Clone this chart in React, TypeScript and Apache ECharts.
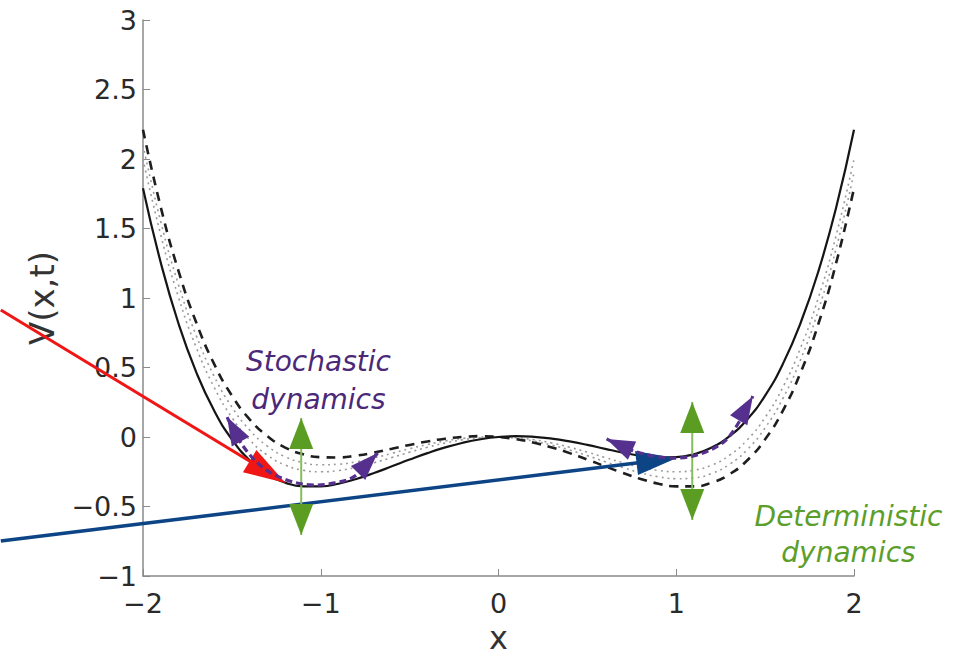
import React, { useEffect, useRef } from "react";
import * as echarts from "echarts";

// ---------- data ----------
const xValues = [
  -2, -1.9, -1.8, -1.7, -1.6, -1.5, -1.4, -1.3, -1.2, -1.1, -1, -0.9, -0.8, -0.7, -0.6, -0.5, -0.4, -0.3, -0.2, -0.1,
  0, 0.1, 0.2, 0.3, 0.4, 0.5, 0.6, 0.7, 0.8, 0.9, 1, 1.1, 1.2, 1.3, 1.4, 1.5, 1.6, 1.7, 1.8, 1.9, 2,
];
const solidV = [
  1.79, 1.254, 0.815, 0.465, 0.19, -0.017, -0.167, -0.268, -0.328, -0.355, -0.355, -0.336, -0.302, -0.259, -0.211, -0.162, -0.116, -0.075, -0.041, -0.016,
  0, 0.006, 0.001, -0.012, -0.032, -0.057, -0.085, -0.112, -0.134, -0.147, -0.145, -0.124, -0.076, 0.006, 0.127, 0.298, 0.526, 0.822, 1.193, 1.653, 2.21,
];
const dottedAV = [
  2, 1.453, 1.004, 0.643, 0.358, 0.141, -0.02, -0.131, -0.202, -0.239, -0.25, -0.241, -0.218, -0.185, -0.148, -0.109, -0.074, -0.043, -0.02, -0.005,
  0, -0.005, -0.02, -0.043, -0.074, -0.109, -0.148, -0.185, -0.218, -0.241, -0.25, -0.239, -0.202, -0.131, -0.02, 0.141, 0.358, 0.643, 1.004, 1.453, 2,
];
const dottedBV = [
  2.1, 1.548, 1.094, 0.728, 0.438, 0.216, 0.05, -0.066, -0.142, -0.184, -0.2, -0.196, -0.178, -0.15, -0.118, -0.084, -0.054, -0.028, -0.01, 0,
  0, -0.01, -0.03, -0.058, -0.094, -0.134, -0.178, -0.22, -0.258, -0.286, -0.3, -0.294, -0.262, -0.196, -0.09, 0.066, 0.278, 0.558, 0.914, 1.358, 1.9,
];
const dashedV = [
  2.21, 1.653, 1.193, 0.822, 0.526, 0.298, 0.127, 0.006, -0.076, -0.124, -0.145, -0.147, -0.134, -0.112, -0.085, -0.057, -0.032, -0.012, 0.001, 0.006,
  0, -0.016, -0.041, -0.075, -0.116, -0.162, -0.211, -0.259, -0.302, -0.336, -0.355, -0.355, -0.328, -0.268, -0.167, -0.017, 0.19, 0.465, 0.815, 1.254, 1.79,
];

// annotation anchors (data coordinates)
const redArrow = [[-2.8, 0.914], [-1.198, -0.331]];
const blueArrow = [[-2.8, -0.748], [1.0, -0.152]];
const greenArrowLeft = [[-1.11, 0.137], [-1.11, -0.705]];
const greenArrowRight = [[1.09, 0.252], [1.09, -0.597]];
const purplePathLeft = [
  [-1.527, 0.143], [-1.44, -0.06], [-1.33, -0.215], [-1.2, -0.305], [-1.06, -0.345], [-0.92, -0.33], [-0.806, -0.28], [-0.68, -0.115],
];
const purplePathRight = [
  [0.608, -0.014], [0.744, -0.093], [0.885, -0.14], [1.025, -0.15], [1.166, -0.108], [1.296, 0.0], [1.431, 0.294],
];
const stochasticLabel = ["Stochastic", "dynamics"];
const deterministicLabel = ["Deterministic", "dynamics"];
const stochasticAnchor = [-1.013, 0.403];
const deterministicAnchor = [1.969, -0.705];

const pair = (ys: number[]) => xValues.map((x, i) => [x, ys[i]]);
const fmt = (v: number) => String(v).replace("-", "\u2212");

export default function App() {
  const ref = useRef<HTMLDivElement>(null);
  useEffect(() => {
    if (!ref.current) return;
    const chart = echarts.init(ref.current, null, { renderer: "svg" });
    const font = "'DejaVu Sans', sans-serif";
    chart.setOption({
      animation: false,
      backgroundColor: "#ffffff",
      grid: { left: 143, right: 120, top: 20, bottom: 83, containLabel: false, outerBoundsMode: "none" },
      xAxis: {
        type: "value",
        min: -2,
        max: 2,
        interval: 1,
        name: "x",
        nameLocation: "middle",
        nameGap: 47,
        nameTextStyle: { fontFamily: font, fontSize: 32, lineHeight: 30, color: "#333" },
        axisLine: { onZero: false, lineStyle: { color: "#8a8a8a", width: 1.5 } },
        axisTick: { inside: true, length: 7, lineStyle: { color: "#8a8a8a" } },
        axisLabel: { formatter: fmt, fontFamily: font, fontSize: 27, lineHeight: 27, color: "#2a2a2a", margin: 14 },
        splitLine: { show: false },
      },
      yAxis: {
        type: "value",
        min: -1,
        max: 3,
        interval: 0.5,
        name: "V(x,t)",
        nameLocation: "middle",
        nameGap: 84,
        nameTextStyle: { fontFamily: font, fontSize: 34, color: "#333" },
        axisLine: { onZero: false, lineStyle: { color: "#8a8a8a", width: 1.5 } },
        axisTick: { inside: true, length: 7, lineStyle: { color: "#8a8a8a" } },
        axisLabel: { formatter: fmt, fontFamily: font, fontSize: 27, lineHeight: 25, color: "#2a2a2a", margin: 6 },
        splitLine: { show: false },
      },
      series: [
        {
          type: "line", data: pair(dottedAV), smooth: true, showSymbol: false,
          lineStyle: { color: "#9a9a9a", width: 1.6, type: [2, 4] }, z: 2,
        },
        {
          type: "line", data: pair(dottedBV), smooth: true, showSymbol: false,
          lineStyle: { color: "#9a9a9a", width: 1.6, type: [2, 4] }, z: 2,
        },
        {
          type: "line", data: pair(dashedV), smooth: true, showSymbol: false,
          lineStyle: { color: "#1e1e1e", width: 2.6, type: [9, 7] }, z: 3,
        },
        {
          type: "line", data: pair(solidV), smooth: true, showSymbol: false,
          lineStyle: { color: "#151515", width: 2.2, type: "solid" }, z: 4,
        },
      ],
    });

    const px = (p: number[]) => chart.convertToPixel({ gridIndex: 0 }, p) as number[];
    const head = (tip: number[], from: number[], len: number, hw: number, color: string) => {
      const dx = tip[0] - from[0];
      const dy = tip[1] - from[1];
      const d = Math.hypot(dx, dy) || 1;
      const ux = dx / d, uy = dy / d;
      const bx = tip[0] - ux * len, by = tip[1] - uy * len;
      return {
        type: "polygon",
        shape: { points: [tip, [bx - uy * hw, by + ux * hw], [bx + uy * hw, by - ux * hw]] },
        style: { fill: color },
        z: 100,
      };
    };
    const straightArrow = (pts: number[][], color: string, width: number, len: number, hw: number) => {
      const a = px(pts[0]);
      const b = px(pts[1]);
      const d = Math.hypot(b[0] - a[0], b[1] - a[1]);
      const t = (d - len * 0.6) / d;
      return [
        { type: "line", shape: { x1: a[0], y1: a[1], x2: a[0] + (b[0] - a[0]) * t, y2: a[1] + (b[1] - a[1]) * t }, style: { stroke: color, lineWidth: width }, z: 99 },
        head(b, a, len, hw, color),
      ];
    };
    const doubleArrow = (pts: number[][], lineColor: string, headColor: string, len: number, hw: number) => {
      const a = px(pts[0]);
      const b = px(pts[1]);
      return [
        { type: "line", shape: { x1: a[0], y1: a[1], x2: b[0], y2: b[1] }, style: { stroke: lineColor, lineWidth: 2 }, z: 99 },
        head(a, b, len, hw, headColor),
        head(b, a, len, hw, headColor),
      ];
    };
    const curvedArrow = (pts: number[][], color: string) => {
      const p = pts.map(px);
      const n = p.length;
      return [
        { type: "polyline", shape: { points: p, smooth: 0.35 }, style: { stroke: color, lineWidth: 3.2, lineDash: [7, 4], fill: null }, z: 101 },
        head(p[0], p[1], 28, 10, color),
        head(p[n - 1], p[n - 2], 28, 10, color),
      ];
    };
    const sa = px(stochasticAnchor);
    const da = px(deterministicAnchor);
    const purple = "#56308e";
    const green = "#5b9d22";
    chart.setOption({
      graphic: [
        ...straightArrow(redArrow, "#f01616", 3, 42, 13),
        ...straightArrow(blueArrow, "#0d4486", 3.5, 40, 12),
        ...doubleArrow(greenArrowLeft, "#86bc5c", green, 31, 12),
        ...doubleArrow(greenArrowRight, "#86bc5c", green, 31, 12),
        ...curvedArrow(purplePathLeft, purple),
        ...curvedArrow(purplePathRight, purple),
        {
          type: "text", x: sa[0], y: sa[1], z: 102,
          style: {
            text: stochasticLabel.join("\n"), font: "italic 28px 'DejaVu Sans', sans-serif",
            fill: "#4b2878", align: "center", verticalAlign: "middle", textAlign: "center", textVerticalAlign: "middle", lineHeight: 38,
          },
        },
        {
          type: "text", x: da[0], y: da[1], z: 102,
          style: {
            text: deterministicLabel.join("\n"), font: "italic 28px 'DejaVu Sans', sans-serif",
            fill: "#5c9e2a", align: "center", verticalAlign: "middle", textAlign: "center", textVerticalAlign: "middle", lineHeight: 36,
          },
        },
      ],
    });
    return () => chart.dispose();
  }, []);
  return <div ref={ref} style={{ position: "fixed", left: 0, top: 0, width: 974, height: 659 }} />;
}
